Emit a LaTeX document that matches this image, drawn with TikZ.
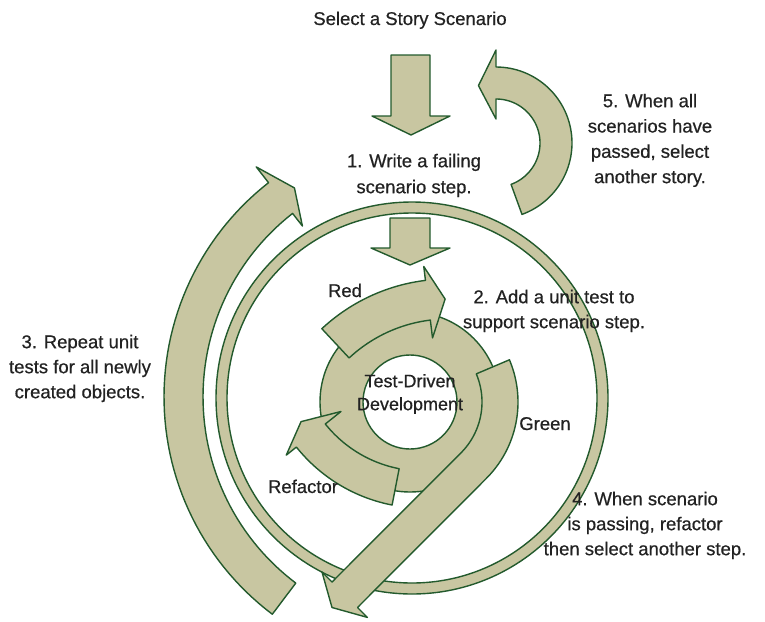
\documentclass[tikz,border=0pt]{standalone}
\usepackage{fontspec}
\setmainfont{Liberation Sans}[FakeBold=0.6]
\definecolor{leaf}{HTML}{C8C6A1}
\definecolor{rim}{HTML}{235A2D}
\definecolor{ink}{HTML}{222222}

\tikzset{
  band/.style={fill=leaf, draw=rim, line width=1.4pt, line join=round},
  txt/.style={text=ink, inner sep=0pt, align=center, font=\fontsize{18.5}{25}\selectfont},
}

% curved block arrow: centre (#1,#2), inner/outer radius #3/#4,
% body from angle #5 to #6, barb overhang #7 (inside) / #8 (outside), tip at angle #9
\newcommand{\bentarrow}[9]{%
  \path[band]
    plot[domain=#5:#6, samples=60, variable=\t] ({#1+#4*cos(\t)},{#2+#4*sin(\t)})
    -- ({#1+(#4+#8)*cos(#6)},{#2+(#4+#8)*sin(#6)})
    -- ({#1+0.5*(#3+#4)*cos(#9)},{#2+0.5*(#3+#4)*sin(#9)})
    -- ({#1+(#3-#7)*cos(#6)},{#2+(#3-#7)*sin(#6)})
    -- plot[domain=#6:#5, samples=60, variable=\t] ({#1+#3*cos(\t)},{#2+#3*sin(\t)})
    -- cycle;}

\begin{document}
\begin{tikzpicture}[x=1pt, y=-1pt]
\useasboundingbox (0,0) rectangle (765,621);

% outer scenario ring
\path[band, even odd rule] (412,398) circle[radius=196pt] (412,398) circle[radius=185pt];

% step 3: repeat loop on the left
\bentarrow{436}{397}{233}{272}{127}{232}{16}{20}{235.9}
% step 5: back to the next story
\bentarrow{496}{143}{44}{76}{70}{-90}{20}{17}{-107}

% straight down arrows
\path[band] (391,55) -- (430,55) -- (430,116) -- (450,116) -- (411,135) -- (372,116) -- (391,116) -- cycle;
\path[band] (390,218) -- (430,218) -- (430,248) -- (450,248) -- (410,265) -- (371,248) -- (390,248) -- cycle;

% TDD core ring
\path[band, even odd rule] (410,402) circle[radius=90pt] (410,402) circle[radius=47pt];

% Red
\bentarrow{448}{464}{145}{185}{-133}{-97}{18}{14}{-91}
% Refactor
\bentarrow{423}{346}{125}{162}{101}{141.4}{20}{13}{148.2}
% Green: arc that runs out into a straight leg
\path[band]
  plot[domain=-23:45, samples=50, variable=\t] ({410+108*cos(\t)},{402+108*sin(\t)})
  -- (357.5,607.5) -- (367.4,617.4) -- (332,607.5) -- (322,572) -- (332,582)
  -- plot[domain=45:-23, samples=50, variable=\t] ({410+72*cos(\t)},{402+72*sin(\t)})
  -- cycle;

% captions
\node[txt, anchor=base] (select) at (410,25) {Select a Story Scenario};
\node[txt, anchor=north, font=\fontsize{18.5}{26}\selectfont] (write) at (414,148.8)
  {\strut 1. Write a failing\\scenario step.};
\node[txt, anchor=north, font=\fontsize{18.5}{25.3}\selectfont] (another) at (650,89.3)
  {\strut 5. When all\\scenarios have\\passed, select\\another story.};
\node[txt, anchor=north] (unit) at (554,285.5)
  {\strut 2. Add a unit test to\\support scenario step.};
\node[txt, anchor=north] (repeat) at (80,330.5)
  {\strut 3. Repeat unit\\tests for all newly\\created objects.};
\node[txt, anchor=north] (passing) at (645,487.5)
  {\strut 4. When scenario\\is passing, refactor\\then select another step.};
\node[txt, anchor=north, font=\fontsize{18}{23}\selectfont] (tdd) at (410,370.9)
  {\strut Test-Driven\\Development};
\node[txt, anchor=base] (red) at (345,297) {Red};
\node[txt, anchor=base] (green) at (545,430) {Green};
\node[txt, anchor=base] (refactor) at (303,493) {Refactor};
\end{tikzpicture}
\end{document}
